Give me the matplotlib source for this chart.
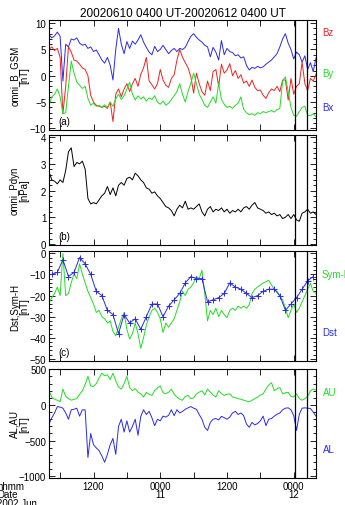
import numpy as np
import matplotlib
matplotlib.use("Agg")
import matplotlib.pyplot as plt
from matplotlib import ticker

plt.rcParams['font.family'] = ['Liberation Sans', 'DejaVu Sans']

# half-hourly samples, hours after 2002-06-10 04:00 UT
bx = [7.8, 7.2, 7.6, 8.3, 7.5, -1.0, 6.0, 5.5, 7.0, 6.8, 7.2, 6.2, 5.8, 6.0, 5.2, 5.5,
      4.6, 4.9, 4.0, 3.0, 2.4, 3.5, 2.0, -0.8, 5.0, 9.0, 6.0, 4.2, 6.5, 5.2, 6.6, 6.0,
      6.8, 7.8, 6.4, 5.4, 4.5, 4.0, 5.6, 4.6, 5.0, 5.8, 5.0, 4.2, 4.8, 5.2, 4.6, 5.2,
      5.0, 5.4, 6.5, 7.5, 8.0, 7.3, 6.8, 6.4, 5.8, 5.5, 3.6, 5.4, 4.5, 3.0, 6.7, 4.0,
      5.2, 4.6, 4.4, 3.8, 4.0, 3.4, 3.6, 2.0, 1.1, 1.6, 1.4, 1.8, 1.5, 1.7, 2.2, 2.6,
      3.0, 3.6, 4.2, 5.5, 7.0, 8.0, 6.2, 5.0, 3.2, 4.5, 4.0, 2.6, 3.8, 1.2, 2.5, 0.8, 3.4]
by = [-5.6, -4.0, -3.5, -2.5, -4.0, -7.2, -7.0, -2.0, 2.8, 0.5, -1.2, -1.8, -2.4, -2.0, -4.3, -5.6,
      -5.2, -5.8, -5.6, -6.0, -5.5, -6.0, -5.0, -5.8, -4.4, -3.5, -4.5, -3.8, -2.5, -1.2, -3.5, -4.6,
      -3.8, -4.4, -4.0, -4.8, -4.2, -4.5, -3.8, -5.0, -5.4, -4.8, -5.6, -5.2, -4.5, -3.8, -3.0, -1.5,
      -3.5, -5.0, -3.0, -1.4, 0.5, -1.5, -3.5, -4.5, -5.6, -6.0, -5.0, -4.0, -5.2, -1.4, -4.5, -5.4,
      -6.0, -5.8, -6.2, -5.6, -5.2, -4.0, -6.4, -7.0, -7.4, -7.2, -7.5, -7.0, -7.2, -6.8, -7.0, -6.8,
      -6.6, -6.9, -6.4, -6.2, -1.0, -0.2, -3.0, -6.0, -7.5, -7.7, -6.8, -6.0, -5.8, -7.5, -7.6, -7.2, -7.8]
bz = [5.0, 5.5, 4.8, 5.2, 3.5, -7.2, -2.0, 5.5, 4.5, 3.0, 2.8, 2.2, 1.5, 1.2, 0.0, -3.7,
      -5.0, -5.6, -5.8, -6.0, -5.8, -6.2, -5.0, -8.7, -3.5, -2.5, -4.0, -2.5, -1.5, -3.0, -1.5, -0.5,
      -2.0, 0.3, 1.5, 3.5, -1.0, -1.7, -2.5, -1.5, 1.2, -0.8, -1.8, -2.2, -0.5, 0.2, 3.0, 5.0,
      3.5, 2.5, 1.5, -0.2, -3.3, 0.5, -1.5, -3.0, -3.7, -1.0, -2.8, 0.8, 1.2, -2.0, 2.2, 0.5,
      1.1, 2.3, 0.0, 1.0, -0.5, 0.2, -1.4, -1.0, -2.0, -0.8, -2.2, -2.8, -2.7, -3.7, -4.3, -3.2,
      -2.5, -2.8, -2.0, -3.0, -0.8, -0.8, -4.6, -0.5, -3.5, -2.0, -1.5, 2.6, -1.5, -2.8, -0.5, -1.0, 0.3]
pdyn = [2.7, 2.4, 2.35, 2.25, 2.4, 2.3, 2.75, 3.45, 3.6, 2.9, 3.05, 3.0, 3.1, 2.8, 1.7, 1.5,
        1.55, 1.5, 1.65, 1.8, 1.9, 2.15, 1.85, 2.1, 1.8, 2.2, 2.3, 2.2, 2.45, 2.5, 2.4, 2.65,
        2.55, 2.4, 2.3, 2.1, 2.05, 1.9, 1.95, 1.8, 1.7, 1.55, 1.4, 1.35, 1.25, 1.05, 1.3, 1.45,
        1.35, 1.6, 1.3, 1.35, 1.3, 1.4, 1.5, 1.2, 1.05, 1.3, 1.4, 1.2, 1.3, 1.25, 1.35, 1.2,
        1.3, 1.15, 1.25, 1.2, 1.3, 1.2, 1.35, 1.4, 1.3, 1.45, 1.55, 1.35, 1.3, 1.25, 1.15, 1.2,
        1.1, 1.15, 1.05, 1.1, 0.95, 1.0, 1.1, 0.95, 1.1, 0.9, 0.85, 1.15, 1.2, 1.3, 1.15, 1.2, 1.1]
symh = [-23.6, -21, -19, -16, -20, 0, -20, -19, -14, -9.6, -12, -5, -10, -14, -18, -21,
        -24, -28, -27, -30, -31, -33, -32, -37, -39, -35, -31, -28, -36, -40.6, -38, -33,
        -38, -45, -40, -34, -30, -27, -26, -28, -31, -37.5, -33, -35, -33, -31, -27, -23,
        -18, -20, -17, -16, -14, -11, -12, -8, -19, -32, -27, -29, -26, -30, -27, -29,
        -30.5, -27, -26, -27, -25, -26, -25, -26, -24.3, -19, -17, -16, -15, -14, -13.5, -12.7,
        -15, -17, -18, -20.5, -22, -26, -30.5, -27, -24, -28, -26, -23, -20, -17, -14.3, -18, -19]
au = [200, 110, 80, 67, 45, 223, 120, 90, 67, 80, 89, 150, 200, 290, 402, 268,
      260, 300, 379, 446, 410, 424, 357, 446, 340, 250, 223, 300, 402, 245, 200, 230,
      180, 156, 111, 178, 150, 134, 200, 240, 268, 170, 160, 178, 223, 150, 111, 80,
      67, 120, 134, 89, 100, 156, 180, 200, 140, 223, 180, 140, 111, 200, 160, 134,
      150, 156, 111, 100, 89, 80, 67, 55, 45, 67, 90, 111, 140, 156, 223, 280,
      313, 200, 230, 245, 156, 170, 178, 120, 111, 156, 89, 67, 89, 120, 200, 223, 210]
al = [-268, -180, -112, -22, -30, -45, -112, -200, -67, -60, -45, -157, -67, -70, -737, -400,
      -558, -603, -640, -715, -804, -693, -558, -469, -693, -300, -200, -380, -223, -380, -300, -200,
      -425, -160, -67, -134, -89, -180, -290, -200, -223, -157, -170, -145, -67, -150, -67, -112,
      -90, -60, -40, -22, -45, -60, -134, -200, -313, -357, -245, -200, -190, -210, -160, -178,
      -200, -170, -112, -89, -134, -112, -150, -268, -313, -245, -280, -260, -223, -157, -290, -200,
      -190, -157, -130, -112, -67, -45, -40, -67, -150, -357, -130, -45, -40, -45, -50, -100, -157]
# hourly Dst, at half past each hour
dst = [-10, -10, -9, -3, -11, -9, -2, -5, -10, -18, -20, -27, -29, -38, -29, -33,
       -31, -36, -30, -24, -24, -30, -25, -22, -19, -14, -11, -12, -12, -23, -22, -21,
       -19, -14, -16, -17, -19, -21, -20, -18, -17, -17, -20, -27, -24, -21, -17, -13, -11]
events = [44.3, 46.3]

tick_hours = [8, 20, 32, 44]
tick_text = ['1200\n', '0000\n11', '1200\n', '0000\n12']

t = np.arange(len(bx)) * 0.5
t_dst = np.arange(len(dst)) - 0.5

BLUE = '#2a2ae6'
GREEN = '#22dd22'
RED = '#ee2222'

fig = plt.figure(figsize=(3.45, 5.06), dpi=100)
W = 345.0
H = 506.0
left = 49 / W
width = 267 / W
rows = [(21, 131), (136, 246), (252, 362), (370, 479)]
axes = []
for top, bot in rows:
    axes.append(fig.add_axes([left, 1 - bot / H, width, (bot - top) / H]))
ax1, ax2, ax3, ax4 = axes

lw = 0.7
ax1.plot(t, bx, color=BLUE, lw=lw)
ax1.plot(t, bz, color=RED, lw=lw)
ax1.plot(t, by, color=GREEN, lw=lw)
ax1.set_ylim(-10.3, 10.6)
ax1.yaxis.set_major_locator(ticker.MultipleLocator(5))
ax1.yaxis.set_minor_locator(ticker.MultipleLocator(1))
ax1.set_ylabel('omni_B_GSM\n[nT]', fontsize=7, linespacing=0.9)

ax2.plot(t, pdyn, color='black', lw=lw)
ax2.set_ylim(-0.04, 4.08)
ax2.yaxis.set_major_locator(ticker.MultipleLocator(1))
ax2.yaxis.set_minor_locator(ticker.MultipleLocator(0.2))
ax2.set_ylabel('omni_Pdyn\n[nPa]', fontsize=7, linespacing=0.9)

ax3.plot(t, symh, color=GREEN, lw=lw)
ax3.plot(t_dst, dst, color=BLUE, lw=lw, marker='+', ms=4, mew=0.7)
ax3.set_ylim(-51, 1.1)
ax3.yaxis.set_major_locator(ticker.MultipleLocator(10))
ax3.yaxis.set_minor_locator(ticker.MultipleLocator(2))
ax3.set_ylabel('Dst,Sym-H\n[nT]', fontsize=7, linespacing=0.9)

ax4.plot(t, au, color=GREEN, lw=lw)
ax4.plot(t, al, color=BLUE, lw=lw)
ax4.set_ylim(-1025, 505)
ax4.yaxis.set_major_locator(ticker.MultipleLocator(500))
ax4.yaxis.set_minor_locator(ticker.MultipleLocator(100))
ax4.set_ylabel('AL,AU\n[nT]', fontsize=7, linespacing=0.9)

for ax, tag in zip(axes, ['(a)', '(b)', '(c)', None]):
    ax.set_xlim(0, 48)
    for ev in events:
        ax.axvline(ev, color='black', lw=0.9)
    ax.xaxis.set_major_locator(ticker.MultipleLocator(6, offset=2))
    ax.tick_params(which='both', direction='in', top=True, right=True,
                   labelsize=7, pad=2, width=0.6)
    ax.tick_params(which='major', length=4)
    ax.tick_params(which='minor', length=2)
    ax.set_xticklabels([])
    ax.yaxis.set_label_coords(-0.075, 0.5)
    for s in ax.spines.values():
        s.set_linewidth(0.8)
    if tag:
        ax.text(0.035, 0.04, tag, transform=ax.transAxes, fontsize=7,
                ha='left', va='bottom')

ax4.set_xticks(np.arange(2, 48, 6))
ax4.set_xticklabels(['' if h not in tick_hours else tick_text[tick_hours.index(h)]
                     for h in np.arange(2, 48, 6)], linespacing=0.8)

ax1.set_title('20020610 0400 UT-20020612 0400 UT', fontsize=8.5, pad=3)

lab_x = 1.025
ax1.text(lab_x, 0.86, 'Bz', color=RED, fontsize=7, transform=ax1.transAxes)
ax1.text(lab_x, 0.49, 'By', color=GREEN, fontsize=7, transform=ax1.transAxes)
ax1.text(lab_x, 0.18, 'Bx', color=BLUE, fontsize=7, transform=ax1.transAxes)
ax3.text(1.02, 0.76, 'Sym-H', color=GREEN, fontsize=7, transform=ax3.transAxes)
ax3.text(lab_x, 0.24, 'Dst', color=BLUE, fontsize=7, transform=ax3.transAxes)
ax4.text(lab_x, 0.76, 'AU', color=GREEN, fontsize=7, transform=ax4.transAxes)
ax4.text(lab_x, 0.24, 'AL', color=BLUE, fontsize=7, transform=ax4.transAxes)

fig.text(-3 / W, 1 - 482 / H, 'hhmm\nDate\n2002 Jun', fontsize=7,
         ha='left', va='top', linespacing=0.8)

fig.savefig('out.png', dpi=100)
